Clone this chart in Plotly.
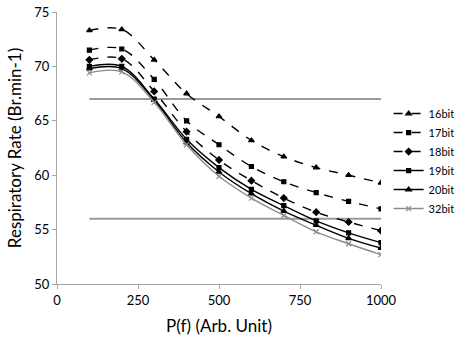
import plotly.graph_objects as go

x_vals = [100, 200, 300, 400, 500, 600, 700, 800, 900, 1000]
bit16 = [73.3, 73.4, 70.6, 67.5, 65.4, 63.2, 61.7, 60.7, 60.0, 59.3]
bit17 = [71.5, 71.6, 68.8, 65.0, 62.8, 60.8, 59.4, 58.4, 57.6, 56.9]
bit18 = [70.6, 70.7, 67.7, 64.0, 61.4, 59.5, 57.9, 56.6, 55.7, 54.9]
bit19 = [70.0, 70.0, 67.0, 63.3, 60.7, 58.7, 57.2, 55.8, 54.7, 53.8]
bit20 = [69.8, 69.8, 66.9, 63.0, 60.3, 58.3, 56.7, 55.4, 54.2, 53.3]
bit32 = [69.4, 69.5, 66.7, 62.8, 59.9, 57.9, 56.3, 54.8, 53.7, 52.7]
series_names = ["16bit", "17bit", "18bit", "19bit", "20bit", "32bit"]

ref_x = [100, 1000]
ref_upper = [67, 67]
ref_lower = [56, 56]

FONT = "Lato, 'Open Sans', sans-serif"

fig = go.Figure()

# reference lines
for yy in (ref_upper, ref_lower):
    fig.add_trace(go.Scatter(x=ref_x, y=yy, mode="lines",
                             line=dict(color="#9a9a9a", width=2),
                             showlegend=False, hoverinfo="skip"))

styles = [
    (bit16, "triangle-up", "black", "dash", 5),
    (bit17, "square", "black", "dash", 4),
    (bit18, "diamond", "black", "dash", 5),
    (bit19, "square", "black", "solid", 4),
    (bit20, "triangle-up", "black", "solid", 5),
    (bit32, "x-thin", "#8c8c8c", "solid", 5),
]
for name, (vals, sym, col, dash, ms) in zip(series_names, styles):
    fig.add_trace(go.Scatter(
        x=x_vals, y=vals, name=name, mode="lines+markers",
        line=dict(color=col, width=1.4, dash=dash, shape="spline"),
        marker=dict(symbol=sym, size=ms, color=col,
                    line=dict(color=col, width=1.2)),
    ))

fig.update_layout(
    width=454, height=344,
    margin=dict(l=57, r=73, t=12, b=60, autoexpand=False),
    paper_bgcolor="white", plot_bgcolor="white",
    font=dict(family=FONT, color="black", size=13),
    legend=dict(xref="container", yref="container",
                x=0.856, xanchor="left", y=0.712, yanchor="top",
                font=dict(size=11, family=FONT), itemwidth=30,
                tracegroupgap=0, bgcolor="rgba(0,0,0,0)"),
    showlegend=True,
)
fig.update_xaxes(range=[0, 1000], tickvals=[0, 250, 500, 750, 1000],
                 showgrid=False, zeroline=False, showline=True, automargin=False,
                 linecolor="#a6a6a6", linewidth=1, ticks="outside",
                 tickcolor="#a6a6a6", ticklen=4,
                 title=dict(text="P(f) (Arb. Unit)", font=dict(size=17), standoff=13),
                 tickfont=dict(size=13))
fig.update_yaxes(range=[50, 75], tickvals=[50, 55, 60, 65, 70, 75],
                 showgrid=False, zeroline=False, showline=True, automargin=False,
                 linecolor="#a6a6a6", linewidth=1, ticks="outside",
                 tickcolor="#a6a6a6", ticklen=4, ticklabeloverflow="allow",
                 title=dict(text="Respiratory Rate (Br.min-1)", font=dict(size=17), standoff=8),
                 tickfont=dict(size=13))

fig.write_html("out.html", config={"displayModeBar": False},
               post_script="document.body.style.margin='0';document.body.style.padding='0';")
